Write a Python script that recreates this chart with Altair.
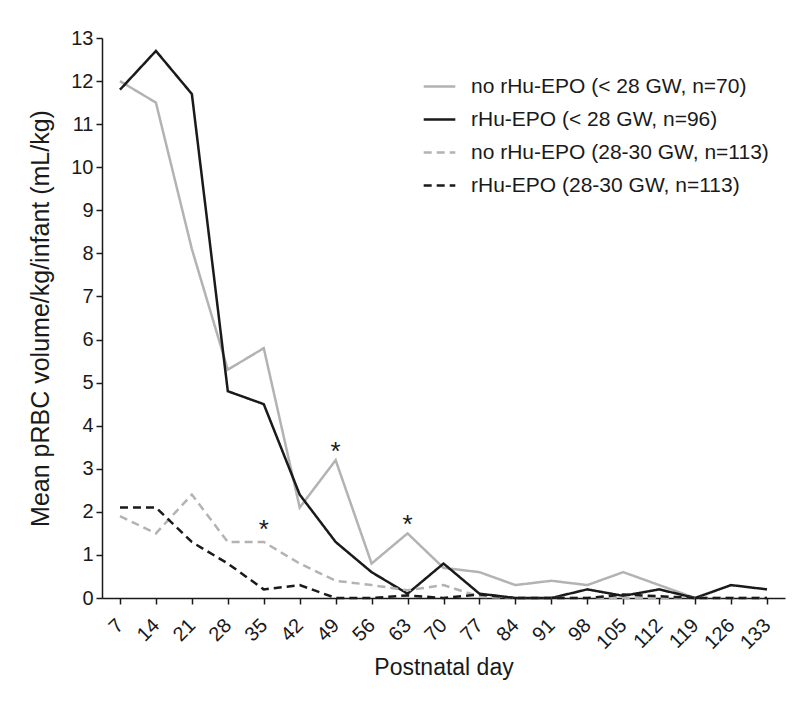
import altair as alt
import pandas as pd

days = [7, 14, 21, 28, 35, 42, 49, 56, 63, 70, 77, 84, 91, 98, 105, 112, 119, 126, 133]
no_epo_lt28 = [12.0, 11.5, 8.1, 5.3, 5.8, 2.1, 3.2, 0.8, 1.5, 0.7, 0.6, 0.3, 0.4, 0.3, 0.6, 0.3, 0.0, None, None]
epo_lt28 = [11.8, 12.7, 11.7, 4.8, 4.5, 2.4, 1.3, 0.6, 0.1, 0.8, 0.1, 0.0, 0.0, 0.2, 0.05, 0.2, 0.0, 0.3, 0.2]
no_epo_28_30 = [1.9, 1.5, 2.4, 1.3, 1.3, 0.8, 0.4, 0.3, 0.18, 0.3, 0.03, 0.0, 0.0, 0.0, 0.0, 0.0, 0.0, 0.0, 0.0]
epo_28_30 = [2.1, 2.1, 1.3, 0.8, 0.2, 0.3, 0.0, 0.0, 0.06, 0.0, 0.08, 0.0, 0.0, 0.0, 0.08, 0.04, 0.0, 0.0, 0.0]

series_names = [
    "no rHu-EPO (< 28 GW, n=70)",
    "rHu-EPO (< 28 GW, n=96)",
    "no rHu-EPO (28-30 GW, n=113)",
    "rHu-EPO (28-30 GW, n=113)",
]
series_values = [no_epo_lt28, epo_lt28, no_epo_28_30, epo_28_30]
series_colors = ["#b3b3b3", "#1a1a1a", "#b3b3b3", "#1a1a1a"]
series_dash = [[1, 0], [1, 0], [8, 5], [8, 5]]

star_days = [35, 49, 63]
star_y = [1.75, 3.55, 1.85]
star_text = ["*", "*", "*"]

y_ticks = list(range(0, 14))

rows = []
for name, vals in zip(series_names, series_values):
    for d, v in zip(days, vals):
        if v is not None:
            rows.append({"day": d, "value": v, "series": name})
df = pd.DataFrame(rows)
stars = pd.DataFrame({"day": star_days, "value": star_y, "t": star_text})

font = "Liberation Sans"

x_axis = alt.Axis(values=days, title="Postnatal day", labelAngle=-45,
                  labelAlign="right", labelBaseline="middle", labelPadding=18,
                  labelOverlap=False, labelBound=False, labelFlush=False,
                  tickSize=6, titlePadding=4, titleFontSize=23)
y_axis = alt.Axis(values=y_ticks, title="Mean pRBC volume/kg/infant (mL/kg)",
                  tickSize=6, labelPadding=3, titlePadding=17, titleFontSize=25)
x_scale = alt.Scale(domain=[3.5, 136.5], nice=False, zero=False)
y_scale = alt.Scale(domain=[0, 13], nice=False)

lines = alt.Chart(df).mark_line(strokeWidth=2.5).encode(
    x=alt.X("day:Q", scale=x_scale, axis=x_axis),
    y=alt.Y("value:Q", scale=y_scale, axis=y_axis),
    color=alt.Color("series:N", scale=alt.Scale(domain=series_names, range=series_colors),
                    legend=alt.Legend(title=None)),
    strokeDash=alt.StrokeDash("series:N", scale=alt.Scale(domain=series_names, range=series_dash),
                              legend=alt.Legend(title=None)),
)

star_marks = alt.Chart(stars).mark_text(fontSize=26, font=font, color="#1a1a1a",
                                        baseline="middle", dy=7).encode(
    x=alt.X("day:Q", scale=x_scale, axis=x_axis),
    y=alt.Y("value:Q", scale=y_scale, axis=y_axis),
    text="t:N")

chart = alt.layer(lines, star_marks).properties(
    width=683, height=560,
    autosize=alt.AutoSizeParams(type="none"),
    padding={"left": 94, "top": 30, "right": 7, "bottom": 90},
).configure_view(stroke=None).configure_axis(
    grid=False, domainColor="#1a1a1a", tickColor="#1a1a1a", labelColor="#1a1a1a",
    titleColor="#1a1a1a", labelFont=font, titleFont=font, labelFontSize=20,
    titleFontWeight="normal", domainWidth=1.5, tickWidth=1.5,
).configure_legend(
    orient="none", legendX=320, legendY=31, symbolType="stroke", symbolSize=1000,
    symbolStrokeWidth=2.5, labelFont=font, labelFontSize=21, labelColor="#1a1a1a",
    labelOffset=14, rowPadding=5, labelLimit=400,
)

chart.save("out.html", embed_options={"renderer": "svg", "actions": False})
